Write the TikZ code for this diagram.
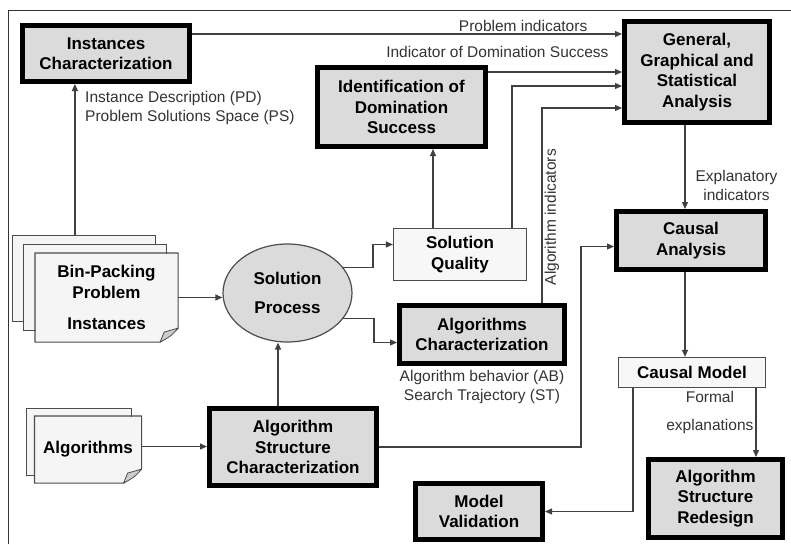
\documentclass[tikz,border=0pt]{standalone}
\usepackage{fontspec}
\setmainfont{Liberation Sans}
\usetikzlibrary{arrows.meta,shapes.geometric,positioning}

% sheet with a dog-ear at the lower right corner
\newcommand\foldsheet[1]{%
  \fill[white] ([yshift=14pt]#1.south east) -- (#1.south east) -- ([xshift=-18pt]#1.south east) -- cycle;
  \draw[black!70,line width=1.2pt,line join=round] (#1.north west) -- (#1.north east) -- ([yshift=14pt]#1.south east)
    -- ([xshift=-18pt]#1.south east) -- (#1.south west) -- cycle;
  \filldraw[fill=black!20,draw=black!70,line width=0.8pt,line join=round] ([yshift=14pt]#1.south east)
    -- ([xshift=-14pt,yshift=10pt]#1.south east) -- ([xshift=-18pt]#1.south east)
    .. controls ([xshift=-7pt,yshift=6pt]#1.south east) .. cycle;}

\begin{document}
\begin{tikzpicture}[x=1pt,y=-1pt,
   box/.style={draw=black,line width=5pt,fill=black!14,align=center,inner sep=0pt,
     font=\bfseries\fontsize{17}{20.5}\selectfont},
   plain/.style={draw=black!70,line width=1.2pt,fill=black!3,align=center,inner sep=0pt,
     font=\bfseries\fontsize{17}{20.5}\selectfont},
   sheet/.style={draw=black!70,line width=1.2pt,fill=black!4,inner sep=0pt,align=center,
     font=\bfseries\fontsize{17}{20.5}\selectfont},
   lbl/.style={text=black!80,font=\fontsize{15.5}{19}\selectfont,inner sep=2pt},
   arr/.style={draw=black!75,line width=1.2pt,-{Triangle[length=7pt,width=6pt]}}]
   \useasboundingbox (0,0) rectangle (791,544);
   \draw[black!80,line width=1pt] (8,544) -- (8,10) -- (791,10);

   % boxes
   \node[box,minimum width=167pt,minimum height=56pt] (instchar) at (106,53.5) {Instances\\Characterization};
   \node[box,minimum width=145pt,minimum height=101pt] (analysis) at (697,72) {General,\\Graphical and\\Statistical\\Analysis};
   \node[box,minimum width=168pt,minimum height=79pt] (domination) at (401.5,107) {Identification of\\Domination\\Success};
   \node[plain,minimum width=133pt,minimum height=52pt] (quality) at (460,254.5) {Solution\\Quality};
   \node[ellipse,draw=black!70,line width=1.2pt,fill=black!14,minimum width=129pt,minimum height=98pt,inner sep=0pt,
     align=center,font=\bfseries\fontsize{17}{20.5}\selectfont] (process) at (287.5,293) {Solution\\[9pt]Process};
   \node[box,minimum width=165pt,minimum height=58pt] (algchar) at (482,334.5) {Algorithms\\Characterization};
   \node[lbl,align=center,below=2pt of algchar] (trajectory) {Algorithm behavior (AB)\\Search Trajectory (ST)};
   \node[box,minimum width=167pt,minimum height=77pt] (ascharac) at (293,447) {Algorithm\\Structure\\Characterization};
   \node[box,minimum width=149pt,minimum height=58pt] (causal) at (691,240.5) {Causal\\Analysis};
   \node[plain,minimum width=147pt,minimum height=30pt] (causalmodel) at (692,372.5) {Causal Model};
   \node[box,minimum width=127pt,minimum height=56pt] (validation) at (479,511.5) {Model\\Validation};
   \node[box,minimum width=134pt,minimum height=78pt] (redesign) at (715.5,498.5) {Algorithm\\Structure\\Redesign};

   % stacks of sheets
   \node[sheet,minimum width=143pt,minimum height=86pt] (instback) at (84,278.5) {};
   \node[sheet,minimum width=143pt,minimum height=86pt] (instmid) at (95,287.5) {};
   \node[sheet,draw=none,minimum width=142pt,minimum height=88pt] (instances) at (106.5,297.5) {Bin-Packing\\Problem\\[11pt]Instances};
   \foldsheet{instances}
   \node[sheet,minimum width=105pt,minimum height=67pt] (algback) at (79,442) {};
   \node[sheet,draw=none,minimum width=106pt,minimum height=66pt] (algorithms) at (88,449.5) {Algorithms};
   \foldsheet{algorithms}

   % connectors
   \draw[arr] ([xshift=63pt]instback.north west) -- ([xshift=63pt]instback.north west |- instchar.south);
   \node[lbl,align=left,anchor=north west] (instdesc) at (83,89) {Instance Description (PD)\\Problem Solutions Space (PS)};
   \draw[arr] ([yshift=-11pt]instchar.north east) -- ([yshift=-11pt]instchar.north east -| analysis.west)
     node[lbl,above,pos=0.77] {Problem indicators};
   \draw[arr] ([yshift=-7pt]domination.north east) -- ([yshift=-7pt]domination.north east -| analysis.west)
     node[lbl,above=12pt,pos=0.07] {Indicator of Domination Success};
   \draw[arr] ([xshift=52pt]quality.north) |- ([yshift=-67pt]analysis.north west);
   \draw[arr] ([xshift=60pt]algchar.north) |- ([yshift=-89pt]analysis.north west)
     node[lbl,rotate=90,anchor=north,pos=0.22] {Algorithm indicators};
   \draw[arr] ([xshift=-27pt]quality.north) -- ([xshift=-27pt]quality.north |- domination.south);
   \draw[arr] (instances.east) -- (instances.east -| process.west);
   \draw[arr] (process.25) -- ++(30,0) |- ([yshift=10pt]quality.west);
   \draw[arr] (process.-25) -- ++(31,0) |- ([yshift=-8pt]algchar.west);
   \draw[arr] ([xshift=-15pt]ascharac.north) -- ([xshift=-15pt]ascharac.north |- process.south);
   \draw[arr] ([yshift=3pt]algorithms.east) -- ([yshift=3pt]algorithms.east -| ascharac.west);
   \draw[arr] (ascharac.east) -- ++(202,0) |- ([yshift=-6pt]causal.west);
   \draw[arr] ([xshift=-12pt]analysis.south) -- ([xshift=-12pt]analysis.south |- causal.north)
     node[lbl,anchor=west,align=center,pos=0.72,xshift=8pt] {Explanatory\\indicators};
   \draw[arr] ([xshift=-6pt]causal.south) -- ([xshift=-6pt]causal.south |- causalmodel.north);
   \draw[arr] ([xshift=64pt]causalmodel.south) -- ([xshift=64pt]causalmodel.south |- redesign.north)
     node[lbl,anchor=east,align=center,pos=0.36] {Formal\\[9pt]explanations};
   \draw[arr] ([xshift=-59pt]causalmodel.south) |- (validation.east);
\end{tikzpicture}
\end{document}
